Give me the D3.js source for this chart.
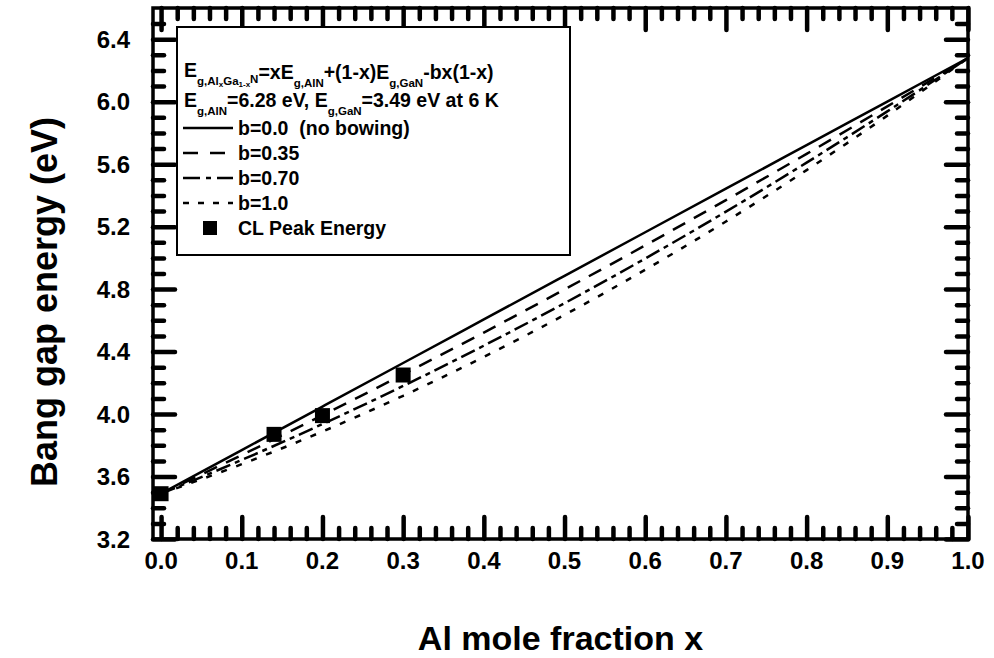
<!DOCTYPE html>
<html><head><meta charset="utf-8">
<script src="https://cdn.jsdelivr.net/npm/d3@7"></script>
<style>
body{margin:0;background:#fff}
svg{display:block}
text{font-family:Arial,"Liberation Sans",sans-serif;font-weight:bold;fill:#000}
</style>
</head><body><svg id="c" width="994" height="658"></svg>
<script>
// ---- data ----
const xValues = [0, 0.1, 0.2, 0.3, 0.4, 0.5, 0.6, 0.7, 0.8, 0.9, 1.0];
const bow000 = [3.49, 3.769, 4.048, 4.327, 4.606, 4.885, 5.164, 5.443, 5.722, 6.001, 6.28];
const bow035 = [3.49, 3.738, 3.992, 4.254, 4.522, 4.798, 5.080, 5.370, 5.666, 5.970, 6.28];
const bow070 = [3.49, 3.706, 3.936, 4.180, 4.438, 4.710, 4.996, 5.296, 5.610, 5.938, 6.28];
const bow100 = [3.49, 3.679, 3.888, 4.117, 4.366, 4.635, 4.924, 5.233, 5.562, 5.911, 6.28];
const clX = [0.0, 0.14, 0.2, 0.3];
const clE = [3.49, 3.87, 3.99, 4.25];
const xTicks = [0.0, 0.1, 0.2, 0.3, 0.4, 0.5, 0.6, 0.7, 0.8, 0.9, 1.0];
const yTicks = [3.2, 3.6, 4.0, 4.4, 4.8, 5.2, 5.6, 6.0, 6.4];
const seriesLabels = ["b=0.0  (no bowing)", "b=0.35", "b=0.70", "b=1.0"];
const pointLabel = "CL Peak Energy";
const xTitle = "Al mole fraction x";
const yTitle = "Bang gap energy (eV)";

// ---- layout ----
const L = 153, R = 968, T = 8, B = 539;
const svg = d3.select("#c");
const x = d3.scaleLinear().domain([-0.01, 1.0]).range([L, R]);
const y = d3.scaleLinear().domain([3.2, 6.6]).range([B, T]);

const xMinor = [];
for (let i = 1; i < 50; i++) { if (i % 5 !== 0) xMinor.push(i / 50); }
const yMinor = [];
for (let i = 33; i <= 65; i++) { if ((i - 32) % 4 !== 0) yMinor.push(i / 10); }

const fmt = d3.format(".1f");

// frame
svg.append("rect").attr("x",L).attr("y",T).attr("width",R-L).attr("height",B-T)
  .attr("fill","none").attr("stroke","#000").attr("stroke-width",3.5);

// ticks via d3 axes (inward on all four sides)
function tidy(g, w){
  g.select(".domain").remove();
  g.selectAll(".tick line").attr("stroke","#000").attr("stroke-width",w).attr("stroke-linecap","round");
}
const sides = [
  [d3.axisBottom, `translate(0,${B})`, x, xTicks, xMinor],
  [d3.axisTop, `translate(0,${T})`, x, xTicks, xMinor],
  [d3.axisLeft, `translate(${L},0)`, y, yTicks, yMinor],
  [d3.axisRight, `translate(${R},0)`, y, yTicks, yMinor]
];
sides.forEach(([ax, tr, sc, maj, mnr])=>{
  svg.append("g").attr("transform",tr)
    .call(ax(sc).tickValues(maj).tickSizeInner(-22).tickSizeOuter(0).tickFormat(""))
    .call(tidy, 4.5);
  svg.append("g").attr("transform",tr)
    .call(ax(sc).tickValues(mnr).tickSizeInner(-11).tickSizeOuter(0).tickFormat(""))
    .call(tidy, 4.5);
});

// tick labels
svg.append("g").selectAll("text").data(xTicks).enter().append("text")
  .attr("x",d=>x(d)).attr("y",B+13).attr("dy","0.71em").attr("text-anchor","middle")
  .attr("font-size",24).text(fmt);
svg.append("g").selectAll("text").data(yTicks).enter().append("text")
  .attr("x",L-23).attr("y",d=>y(d)).attr("dy","0.36em").attr("text-anchor","end")
  .attr("font-size",24).text(fmt);

// clip
svg.append("defs").append("clipPath").attr("id","clip").append("rect")
  .attr("x",L).attr("y",T).attr("width",R-L).attr("height",B-T);

const dashes = [null, "14,10", "15,5,5,5", "6,10"];
const legDashes = [null, "15,12", "17,6,5,6", "6,9"];
const series = [bow000, bow035, bow070, bow100];
const line = d3.line().x((d,i)=>x(xValues[i])).y(d=>y(d)).curve(d3.curveMonotoneX);
const plot = svg.append("g").attr("clip-path","url(#clip)");
series.forEach((s,i)=>{
  plot.append("path").datum(s).attr("d",line)
    .attr("fill","none").attr("stroke","#000").attr("stroke-width",2.5)
    .attr("stroke-dasharray",dashes[i]);
});
const sq = 15;
plot.selectAll("rect.pt").data(clE).enter().append("rect").attr("class","pt")
  .attr("x",(d,i)=>x(clX[i])-sq/2).attr("y",d=>y(d)-sq/2)
  .attr("width",sq).attr("height",sq).attr("fill","#000");

// legend
const lg = svg.append("g");
lg.append("rect").attr("x",177).attr("y",27).attr("width",393).attr("height",228)
  .attr("fill","#fff").attr("stroke","#000").attr("stroke-width",2);

const big = 19.5, sub = 11.5, sub2 = 8;
function part(t, str, size, dy){ t.append("tspan").attr("font-size",size).attr("dy",dy).text(str); }
const t1 = lg.append("text").attr("x",184).attr("y",77).attr("font-size",big);
part(t1,"E",big,0);
part(t1,"g,Al",sub,8);
part(t1,"x",sub2,2);
part(t1,"Ga",sub,-2);
part(t1,"1-x",sub2,2);
part(t1,"N",sub,-4);
part(t1,"=xE",big,-4);
part(t1,"g,AlN",sub,8);
part(t1,"+(1-x)E",big,-8);
part(t1,"g,GaN",sub,8);
part(t1,"-bx(1-x)",big,-8);

const t2 = lg.append("text").attr("x",184).attr("y",107).attr("font-size",big);
part(t2,"E",big,0);
part(t2,"g,AlN",sub,8);
part(t2,"=6.28 eV, E",big,-8);
part(t2,"g,GaN",sub,8);
part(t2,"=3.49 eV at 6 K",big,-8);

const rowY = [135, 160, 185, 210, 235];
seriesLabels.forEach((lab,i)=>{
  lg.append("line").attr("x1",183).attr("x2",233).attr("y1",rowY[i]-7).attr("y2",rowY[i]-7)
    .attr("stroke","#000").attr("stroke-width",2.5).attr("stroke-dasharray",legDashes[i]);
  lg.append("text").attr("x",238).attr("y",rowY[i]).attr("font-size",big)
    .style("white-space","pre").text(lab);
});
lg.append("rect").attr("x",203).attr("y",rowY[4]-14).attr("width",14).attr("height",14).attr("fill","#000");
lg.append("text").attr("x",238).attr("y",rowY[4]).attr("font-size",big).text(pointLabel);

// axis titles
svg.append("text").attr("x",(L+R)/2).attr("y",650).attr("text-anchor","middle")
  .attr("font-size",34).text(xTitle);
svg.append("text").attr("transform",`translate(57,302) rotate(-90)`)
  .attr("text-anchor","middle").attr("font-size",36).text(yTitle);
</script>
</body></html>
